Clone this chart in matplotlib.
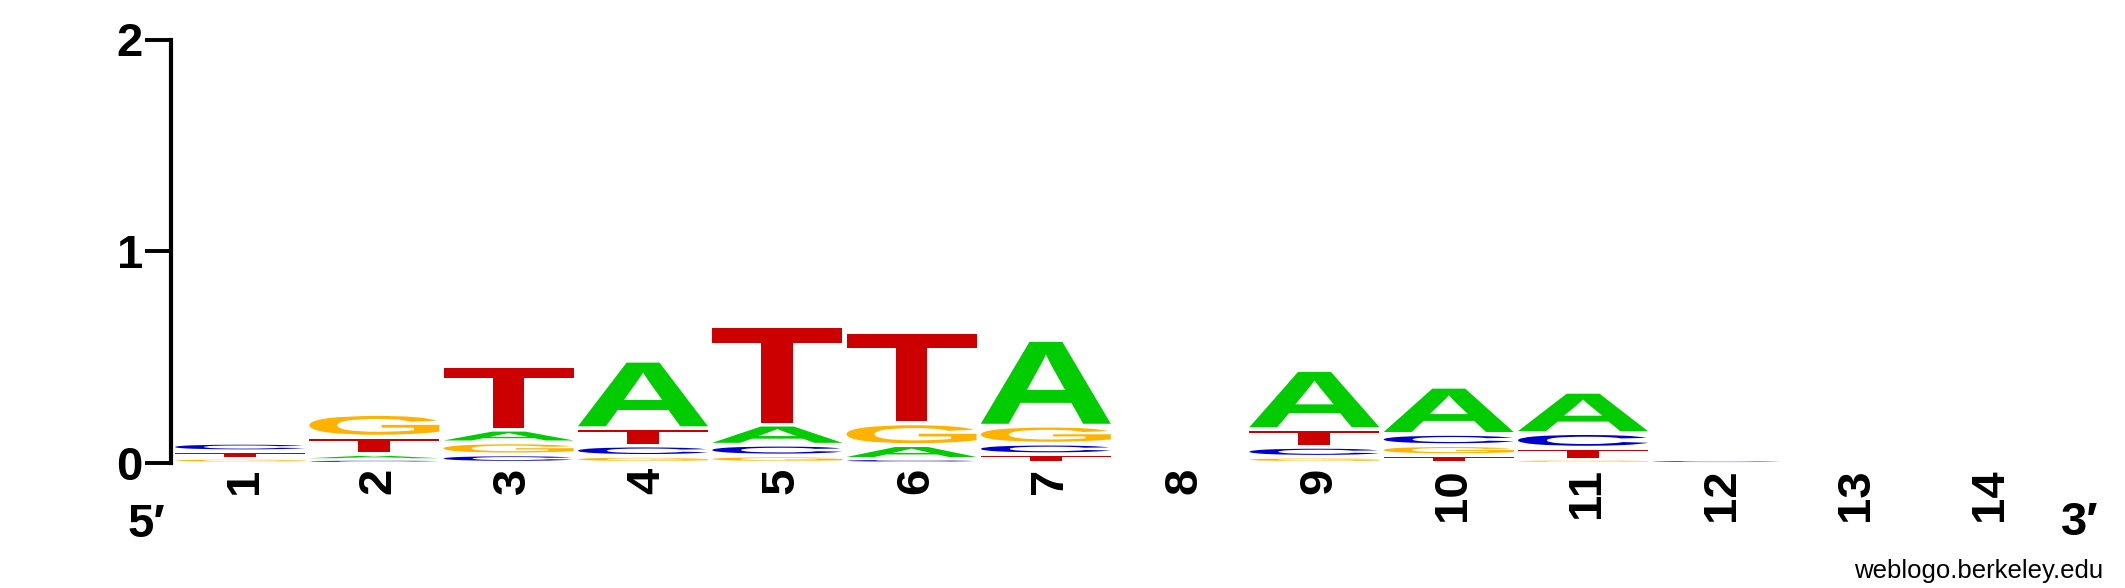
import matplotlib
matplotlib.use("Agg")
import matplotlib.pyplot as plt
from matplotlib.textpath import TextPath
from matplotlib.patches import PathPatch
from matplotlib.font_manager import FontProperties
from matplotlib.transforms import Affine2D

# ---- data (bits per letter, positions 1..14) ----
positions = list(range(1, 15))
A_bits = [0.0, 0.027, 0.060, 0.319, 0.095, 0.065, 0.405, 0.0, 0.279, 0.223, 0.195, 0.0, 0.0, 0.0]
C_bits = [0.040, 0.013, 0.039, 0.049, 0.051, 0.018, 0.050, 0.0, 0.047, 0.053, 0.069, 0.010, 0.0, 0.0]
G_bits = [0.020, 0.107, 0.057, 0.032, 0.034, 0.103, 0.085, 0.0, 0.028, 0.047, 0.014, 0.0, 0.0, 0.0]
T_bits = [0.034, 0.083, 0.301, 0.082, 0.466, 0.430, 0.040, 0.0, 0.084, 0.036, 0.057, 0.0, 0.0, 0.0]
pos_labels = [str(p) for p in positions]
y_ticks = [0, 1, 2]
y_ticklabels = ["0", "1", "2"]

letter_colors = {"A": "#00CC00", "C": "#0000CC", "G": "#FFB300", "T": "#CC0000"}
series = {"A": A_bits, "C": C_bits, "G": G_bits, "T": T_bits}

W, H, DPI = 2125, 588, 100
fig = plt.figure(figsize=(W / DPI, H / DPI), dpi=DPI)
ax = fig.add_axes([171 / W, 125.3 / H, 1882 / W, 423.2 / H])
ax.set_xlim(0.5 - 1.9 / 134.3, 14.5)
ax.set_ylim(0, 2)

bold_fp = FontProperties(family="Liberation Sans", weight="bold")
col_width = 130 / 134.3

def draw_letter(letter, xc, ybot, h):
    pad = min(0.009, 0.3 * h)
    gh = h - 2 * pad
    if gh <= 0:
        return
    tp = TextPath((0, 0), letter, size=1, prop=bold_fp)
    ext = tp.get_extents()
    tr = (Affine2D().translate(-ext.x0, -ext.y0)
          .scale(col_width / ext.width, gh / ext.height)
          .translate(xc - col_width / 2, ybot + pad))
    path = tr.transform_path(tp)
    ax.add_patch(PathPatch(path, facecolor=letter_colors[letter], edgecolor="none", lw=0))

for i, p in enumerate(positions):
    stack = sorted([(series[L][i], L) for L in "ACGT" if series[L][i] > 0])
    y0 = 0.0
    for h, L in stack:
        draw_letter(L, p, y0, h)
        y0 += h

# axes styling
for s in ["top", "right", "bottom"]:
    ax.spines[s].set_visible(False)
ax.spines["left"].set_bounds(0, 2)
ax.spines["left"].set_linewidth(3.0)
ax.spines["left"].set_capstyle("projecting")
ax.set_xticks([])
ax.set_yticks(y_ticks)
ax.set_yticklabels(y_ticklabels, fontproperties=FontProperties(family="Liberation Sans", weight="bold", size=34))
ax.tick_params(axis="y", direction="out", length=18.7, width=2.8, pad=1.5)

# position labels (rotated)
dx = 16.5 / 134.3
ytop = -(468 - 462.7) / 211.6
for p, lab in zip(positions, pos_labels):
    ax.text(p + dx, ytop, lab, rotation=90, rotation_mode="anchor", ha="right", va="baseline",
            fontproperties=FontProperties(family="Liberation Sans", weight="bold", size=34), clip_on=False)

end_fp = FontProperties(family=["Liberation Sans", "DejaVu Sans"], weight="bold", size=34)
fig.text(146 / W, 1 - 537 / H, "5\u2032", ha="center", va="baseline", fontproperties=end_fp)
fig.text(2080 / W, 1 - 535 / H, "3\u2032", ha="center", va="baseline", fontproperties=end_fp)
fig.text(2103 / W, 1 - 578 / H, "weblogo.berkeley.edu", ha="right", va="baseline",
         fontproperties=FontProperties(family="Liberation Sans", size=18.5))

fig.savefig("out.png", dpi=DPI)
